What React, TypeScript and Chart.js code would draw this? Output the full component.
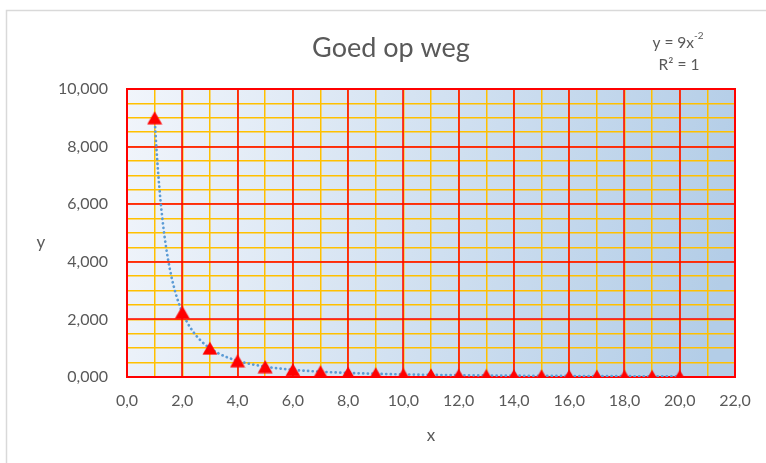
import React, { useEffect, useRef } from "react";
import { Chart, registerables } from "chart.js";

Chart.register(...registerables);

const chartTitle = "Goed op weg";
const xAxisTitle = "x";
const yAxisTitle = "y";
const equationBase = "y = 9x";
const equationExponent = "-2";
const rSquaredText = "R² = 1";

const xValues = [1, 2, 3, 4, 5, 6, 7, 8, 9, 10, 11, 12, 13, 14, 15, 16, 17, 18, 19, 20];
const yValues = [9, 2.25, 1, 0.5625, 0.36, 0.25, 0.184, 0.141, 0.111, 0.09, 0.074, 0.0625, 0.053, 0.046, 0.04, 0.035, 0.031, 0.028, 0.025, 0.0225];

const xMin = 0;
const xMax = 22;
const xStep = 1;
const xMajor = 2;
const yMin = 0;
const yMax = 10;
const yStep = 0.5;
const yMajor = 2;

// power-law trendline fitted from the data (like Excel's power trendline)
function powerFit(xs: number[], ys: number[]) {
  const n = xs.length;
  let sx = 0, sy = 0, sxx = 0, sxy = 0;
  for (let i = 0; i < n; i++) {
    const lx = Math.log(xs[i]);
    const ly = Math.log(ys[i]);
    sx += lx; sy += ly; sxx += lx * lx; sxy += lx * ly;
  }
  const b = (n * sxy - sx * sy) / (n * sxx - sx * sx);
  const a = Math.exp((sy - b * sx) / n);
  return { a, b };
}

const fit = powerFit(xValues, yValues);
const trendPoints: { x: number; y: number }[] = [];
for (let x = xValues[0]; x <= xValues[xValues.length - 1] + 1e-9; x += 0.05) {
  trendPoints.push({ x, y: fit.a * Math.pow(x, fit.b) });
}

function isMultiple(v: number, m: number) {
  return Math.abs(v / m - Math.round(v / m)) < 1e-6;
}

function makeTriangle() {
  const c = document.createElement("canvas");
  c.width = 16;
  c.height = 14;
  const g = c.getContext("2d")!;
  g.fillStyle = "#FF0000";
  g.beginPath();
  g.moveTo(8, 0.5);
  g.lineTo(15.5, 13.5);
  g.lineTo(0.5, 13.5);
  g.closePath();
  g.fill();
  return c;
}

const FONT = "Lato, 'Open Sans', sans-serif";
const TEXT = "#595959";
const RED = "#FF0000";
const ORANGE = "#FFC000";

export default function App() {
  const ref = useRef<HTMLCanvasElement | null>(null);

  useEffect(() => {
    if (!ref.current) return;
    const tri = makeTriangle();

    const decor = {
      id: "decor",
      beforeDraw(chart: any) {
        const { ctx, chartArea } = chart;
        const { left, top, right, bottom } = chartArea;
        ctx.save();
        ctx.fillStyle = "#FFFFFF";
        ctx.fillRect(0, 0, chart.width, chart.height);
        ctx.strokeStyle = "#D9D9D9";
        ctx.lineWidth = 1.5;
        ctx.strokeRect(6.5, 10.5, chart.width + 20, chart.height + 20);
        const grad = ctx.createLinearGradient(left, top, right, top + (bottom - top) * 0.45);
        grad.addColorStop(0, "#F1F5FB");
        grad.addColorStop(1, "#B3CDE7");
        ctx.fillStyle = grad;
        ctx.fillRect(left, top, right - left, bottom - top);
        ctx.restore();
      },
      beforeDatasetsDraw(chart: any) {
        // major gridlines on top of the minor ones
        const { ctx, chartArea, scales } = chart;
        const { left, top, right, bottom } = chartArea;
        ctx.save();
        ctx.strokeStyle = RED;
        ctx.lineWidth = 1.5;
        for (let v = xMin; v <= xMax + 1e-9; v += xMajor) {
          const px = Math.round(scales.x.getPixelForValue(v));
          ctx.beginPath();
          ctx.moveTo(px, top);
          ctx.lineTo(px, bottom);
          ctx.stroke();
        }
        for (let v = yMin; v <= yMax + 1e-9; v += yMajor) {
          const py = Math.round(scales.y.getPixelForValue(v));
          ctx.beginPath();
          ctx.moveTo(left, py);
          ctx.lineTo(right, py);
          ctx.stroke();
        }
        ctx.lineWidth = 2;
        ctx.strokeRect(left, top, right - left, bottom - top);
        ctx.restore();
      },
      afterDraw(chart: any) {
        const { ctx } = chart;
        ctx.save();
        ctx.fillStyle = TEXT;
        ctx.textAlign = "center";
        ctx.textBaseline = "middle";
        ctx.font = `27px ${FONT}`;
        ctx.fillText(chartTitle, 391, 48);

        ctx.font = `17px ${FONT}`;
        ctx.fillText(yAxisTitle, 41, 243);
        ctx.fillText(xAxisTitle, 431, 436);

        ctx.font = `15.5px ${FONT}`;
        const baseW = ctx.measureText(equationBase).width;
        ctx.font = `10px ${FONT}`;
        const expW = ctx.measureText(equationExponent).width;
        const total = baseW + expW;
        const cx = 678;
        ctx.textAlign = "left";
        ctx.font = `15.5px ${FONT}`;
        ctx.fillText(equationBase, cx - total / 2, 43);
        ctx.font = `10px ${FONT}`;
        ctx.fillText(equationExponent, cx - total / 2 + baseW, 36);
        ctx.textAlign = "center";
        ctx.font = `15.5px ${FONT}`;
        ctx.fillText(rSquaredText, 679, 65);
        ctx.restore();
      },
    };

    const chart = new Chart(ref.current, {
      type: "scatter",
      data: {
        datasets: [
          {
            label: "trend",
            data: trendPoints,
            showLine: true,
            borderColor: "#5B9BD5",
            borderWidth: 2.7,
            borderDash: [0.1, 4.5],
            borderCapStyle: "round",
            pointRadius: 0,
            fill: false,
            order: 2,
          } as any,
          {
            label: "y",
            data: xValues.map((x, i) => ({ x, y: yValues[i] })),
            pointStyle: tri as any,
            pointRadius: 8,
            showLine: false,
            order: 1,
          },
        ],
      },
      options: {
        animation: false,
        responsive: false,
        maintainAspectRatio: false,
        layout: { padding: { left: 0, top: 89, right: 31, bottom: 0 } },
        plugins: {
          legend: { display: false },
          title: { display: false },
          tooltip: { enabled: false },
        },
        scales: {
          x: {
            type: "linear",
            min: xMin,
            max: xMax,
            afterFit(scale: any) { scale.height = 86; },
            afterBuildTicks(scale: any) {
              const t = [];
              for (let v = xMin; v <= xMax + 1e-9; v += xStep) t.push({ value: v });
              scale.ticks = t;
            },
            ticks: {
              autoSkip: false,
              maxRotation: 0,
              padding: 14,
              color: TEXT,
              font: { family: FONT, size: 16 },
              callback: (v: any) => (isMultiple(Number(v), xMajor) ? Number(v).toFixed(1).replace(".", ",") : ""),
            },
            grid: {
              drawTicks: false,
              color: ORANGE,
              lineWidth: 1.5,
            },
            border: { display: false },
          },
          y: {
            type: "linear",
            min: yMin,
            max: yMax,
            afterFit(scale: any) { scale.width = 127; },
            afterBuildTicks(scale: any) {
              const t = [];
              for (let v = yMin; v <= yMax + 1e-9; v += yStep) t.push({ value: v });
              scale.ticks = t;
            },
            ticks: {
              autoSkip: false,
              padding: 19,
              color: TEXT,
              font: { family: FONT, size: 16 },
              callback: (v: any) => (isMultiple(Number(v), yMajor) ? Number(v).toFixed(3).replace(".", ",") : ""),
            },
            grid: {
              drawTicks: false,
              color: ORANGE,
              lineWidth: 1.5,
            },
            border: { display: false },
          },
        },
      } as any,
      plugins: [decor],
    });
    return () => chart.destroy();
  }, []);

  return (
    <div style={{ position: "fixed", left: 0, top: 0, width: 766, height: 463 }}>
      <canvas ref={ref} width={766} height={463} style={{ width: 766, height: 463, display: "block" }} />
    </div>
  );
}
